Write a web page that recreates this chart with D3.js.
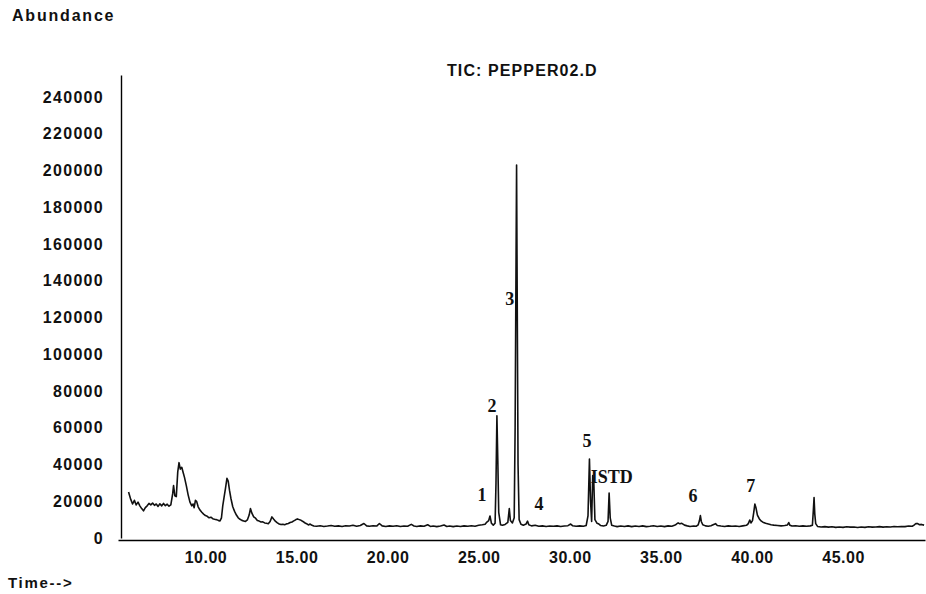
<!DOCTYPE html>
<html>
<head>
<meta charset="utf-8">
<script src="https://cdn.jsdelivr.net/npm/d3@7"></script>
<style>
  body { margin: 0; background: #fff; }
  svg { display: block; }
  .sans { font-family: "Liberation Sans", Arial, sans-serif; font-weight: bold; }
  .peak { font-family: "Liberation Serif", "Times New Roman", serif; font-weight: bold; font-size: 18px; }
</style>
</head>
<body>
<svg id="tic"></svg>
<script>
// total ion chromatogram
const ticTime = [
  5.78, 5.9, 6.0, 6.1, 6.2, 6.3, 6.4, 6.5, 6.6, 6.7, 6.8, 6.9, 7.0, 7.1, 7.2, 7.3, 7.4, 7.5, 7.6, 7.7, 7.8, 7.9, 8.0, 8.1,
  8.2, 8.25, 8.32, 8.4, 8.48, 8.55, 8.62, 8.7, 8.78, 8.85, 8.95, 9.05, 9.15, 9.25, 9.32, 9.38, 9.45, 9.52, 9.6, 9.7, 9.8, 9.9,
  10.0, 10.1, 10.2, 10.3, 10.4, 10.5, 10.6, 10.7, 10.8, 10.88, 10.95, 11.02, 11.1, 11.18, 11.25, 11.32, 11.4, 11.5, 11.6, 11.7,
  11.8, 11.9, 12.0, 12.1, 12.2, 12.3, 12.4, 12.47, 12.55, 12.65, 12.75, 12.85, 12.95, 13.05, 13.15, 13.25, 13.35, 13.45, 13.55,
  13.65, 13.75, 13.85, 13.95, 14.05, 14.15, 14.25, 14.35, 14.45, 14.55, 14.65, 14.75, 14.85, 14.95, 15.05, 15.15, 15.25, 15.35,
  15.45, 15.55, 15.65, 15.75, 15.85, 15.95, 16.1, 16.3, 16.5, 16.7, 16.9, 17.1, 17.3, 17.5, 17.7, 17.9, 18.1, 18.3, 18.5, 18.7,
  18.85, 19.0, 19.2, 19.4, 19.55, 19.7, 19.9, 20.1, 20.3, 20.5, 20.7, 20.9, 21.1, 21.3, 21.45, 21.6, 21.8, 22.0, 22.2, 22.35,
  22.5, 22.7, 22.9, 23.1, 23.25, 23.4, 23.6, 23.8, 24.0, 24.2, 24.4, 24.6, 24.8, 25.0, 25.2, 25.35, 25.45, 25.55, 25.62, 25.7,
  25.8, 25.9, 25.95, 26.0, 26.05, 26.1, 26.2, 26.3, 26.45, 26.6, 26.68, 26.74, 26.85, 26.95, 27.0, 27.05, 27.08, 27.11, 27.16,
  27.22, 27.32, 27.45, 27.6, 27.68, 27.75, 27.9, 28.1, 28.3, 28.5, 28.7, 28.9, 29.1, 29.3, 29.5, 29.7, 29.9, 30.05, 30.15, 30.35,
  30.55, 30.75, 30.9, 31.0, 31.08, 31.14, 31.2, 31.26, 31.32, 31.38, 31.5, 31.6, 31.7, 31.85, 32.0, 32.1, 32.16, 32.22, 32.3,
  32.45, 32.6, 32.8, 33.0, 33.2, 33.4, 33.6, 33.8, 34.0, 34.2, 34.4, 34.6, 34.8, 35.0, 35.2, 35.4, 35.6, 35.75, 35.85, 35.95,
  36.05, 36.15, 36.3, 36.45, 36.6, 36.8, 36.95, 37.05, 37.12, 37.17, 37.22, 37.3, 37.45, 37.6, 37.75, 37.9, 38.0, 38.1, 38.3,
  38.5, 38.7, 38.9, 39.1, 39.3, 39.5, 39.7, 39.8, 39.88, 39.95, 40.03, 40.1, 40.16, 40.22, 40.3, 40.4, 40.5, 40.6, 40.75, 40.9,
  41.05, 41.2, 41.4, 41.6, 41.8, 41.95, 42.02, 42.08, 42.2, 42.4, 42.6, 42.8, 43.0, 43.2, 43.32, 43.37, 43.41, 43.45, 43.5, 43.6,
  43.8, 44.0, 44.2, 44.4, 44.6, 44.8, 45.0, 45.2, 45.4, 45.6, 45.8, 46.0, 46.2, 46.4, 46.6, 46.8, 47.0, 47.2, 47.4, 47.6, 47.8,
  48.0, 48.2, 48.4, 48.6, 48.8, 48.9, 49.0, 49.1, 49.2, 49.3, 49.45
];
const ticAbundance = [
  25000, 21000, 18500, 20500, 18000, 19500, 17500, 16000, 14800, 16500, 17500, 18800, 18000, 19000, 17800, 18500, 17200, 18600, 17500, 18800, 17600, 18400, 17300, 18000,
  24000, 28500, 23000, 22500, 36000, 41000, 37500, 38500, 35500, 33000, 28500, 23500, 19500, 17500, 18500, 16500, 20500, 19800, 17000, 15200, 14000, 13000,
  12200, 11800, 11000, 11300, 10500, 10200, 10000, 9600, 9300, 11000, 17500, 22000, 27000, 32500, 31000, 26000, 21500, 17000, 14500, 12500,
  11000, 10200, 9600, 9300, 9000, 9800, 12500, 16000, 13500, 11500, 10800, 9500, 9200, 8700, 8800, 8200, 8000, 7800, 9000,
  11500, 10200, 9000, 8200, 7600, 7300, 7500, 7200, 7700, 7900, 8400, 8700, 9300, 9900, 10400, 10000, 9600, 9000,
  8300, 7800, 7100, 7600, 6900, 6500, 6400, 6700, 6300, 6500, 6800, 6400, 6600, 6300, 6700, 6500, 6900, 6400, 6800, 7900,
  6600, 6400, 6700, 6500, 7900, 6600, 6300, 6600, 6400, 6700, 6300, 6500, 6400, 7400, 6500, 6300, 6600, 6400, 7200, 6300,
  6500, 6200, 6500, 7100, 6300, 6500, 6200, 6500, 6300, 6600, 6400, 6700, 6400, 6900, 7200, 7500, 8700, 9500, 12000, 8000,
  7000, 8000, 30000, 66500, 42000, 14000, 7200, 6900, 7400, 8500, 16000, 9500, 8200, 11000, 60000, 150000, 203000, 140000, 40000,
  10000, 7500, 7000, 7600, 9200, 7200, 6600, 6900, 6400, 6600, 6300, 6500, 6400, 6600, 6300, 6500, 6700, 7600, 6700, 6400,
  6600, 6400, 6800, 12000, 43000, 20000, 9000, 34000, 30000, 10000, 8000, 7600, 6800, 6500, 6900, 9000, 24500, 11000, 7000,
  6500, 6200, 6500, 6300, 6600, 6200, 6500, 6300, 6600, 6200, 6400, 6700, 6300, 6500, 6200, 6600, 6400, 6900, 7500, 8200,
  7700, 8000, 7000, 6600, 6300, 6500, 6400, 7200, 9500, 12200, 9000, 7200, 6600, 6400, 6700, 7400, 7800, 6800, 6500,
  6300, 6600, 6400, 6500, 6300, 6600, 6900, 7800, 9800, 8200, 9500, 14000, 18500, 16500, 12500, 10500, 9300, 8600, 8000, 7600,
  7200, 7000, 6800, 6600, 6800, 7100, 8400, 7000, 6500, 6700, 6400, 6600, 6400, 6600, 7000, 15000, 22000, 13000, 7800, 6300,
  6000, 6200, 5900, 6100, 5800, 6000, 5800, 6100, 5900, 6000, 5700, 6000, 5800, 6100, 5900, 6000, 6200, 5900, 6100, 6000, 6300,
  6100, 6300, 6200, 6500, 6400, 7000, 7900, 7800, 7200, 7400, 7000
];

const xTicks = [10, 15, 20, 25, 30, 35, 40, 45];
const yTicks = [0, 20000, 40000, 60000, 80000, 100000, 120000, 140000, 160000, 180000, 200000, 220000, 240000];

// peak labels: text, retention time, abundance of label baseline
const peakNames = ["1", "2", "3", "4", "5", "ISTD", "6", "7"];
const peakTimes = [25.18, 25.73, 26.71, 28.31, 30.94, 32.31, 36.76, 39.94];
const peakLevels = [20100, 68600, 126800, 15200, 49500, 29900, 19600, 25000];

const width = 926, height = 594;

const svg = d3.select('#tic')
    .attr('width', width)
    .attr('height', height);

const x = d3.scaleLinear()
    .domain([5.2, 49.5])
    .range([118, 925]);

const y = d3.scaleLinear()
    .domain([0, 252000])
    .range([538, 75]);

// axes
const xAxis = svg.append('g')
    .attr('class', 'sans')
    .attr('transform', 'translate(0,540)')
    .call(d3.axisBottom(x).tickValues(xTicks).tickFormat(d3.format('.2f')).tickSize(0).tickSizeOuter(0).tickPadding(12));
xAxis.select('.domain').attr('stroke', '#000').attr('stroke-width', 1.6);
xAxis.selectAll('text')
    .attr('fill', '#111')
    .style('font-size', '16px')
    .style('letter-spacing', '0.5px');

const yAxis = svg.append('g')
    .attr('class', 'sans')
    .attr('transform', 'translate(121,0)')
    .call(d3.axisLeft(y).tickValues(yTicks).tickFormat(d3.format('d')).tickSize(0).tickSizeOuter(0).tickPadding(17));
yAxis.select('.domain').attr('stroke', '#000').attr('stroke-width', 1.4);
yAxis.selectAll('text')
    .attr('fill', '#111')
    .style('font-size', '16px')
    .style('letter-spacing', '1.3px');

// trace
const line = d3.line()
    .x(i => x(ticTime[i]))
    .y(i => y(ticAbundance[i]));

svg.append('path')
    .datum(d3.range(ticTime.length))
    .attr('d', line)
    .attr('fill', 'none')
    .attr('stroke', '#111')
    .attr('stroke-width', 1.6)
    .attr('stroke-linejoin', 'round');

// peak labels
svg.append('g')
    .selectAll('text')
    .data(peakNames)
    .enter()
    .append('text')
    .attr('class', 'peak')
    .attr('x', (d, i) => x(peakTimes[i]))
    .attr('y', (d, i) => y(peakLevels[i]))
    .attr('text-anchor', 'middle')
    .attr('fill', '#111')
    .text(d => d);

// titles
svg.append('text')
    .attr('class', 'sans')
    .attr('x', 12)
    .attr('y', 21)
    .style('font-size', '16px')
    .style('letter-spacing', '1.8px')
    .attr('fill', '#111')
    .text('Abundance');

svg.append('text')
    .attr('class', 'sans')
    .attr('x', 447)
    .attr('y', 76)
    .style('font-size', '16px')
    .style('letter-spacing', '1.1px')
    .attr('fill', '#111')
    .text('TIC: PEPPER02.D');

svg.append('text')
    .attr('class', 'sans')
    .attr('x', 8)
    .attr('y', 588)
    .style('font-size', '15px')
    .style('letter-spacing', '1.7px')
    .attr('fill', '#111')
    .text('Time-->');
</script>
</body>
</html>
